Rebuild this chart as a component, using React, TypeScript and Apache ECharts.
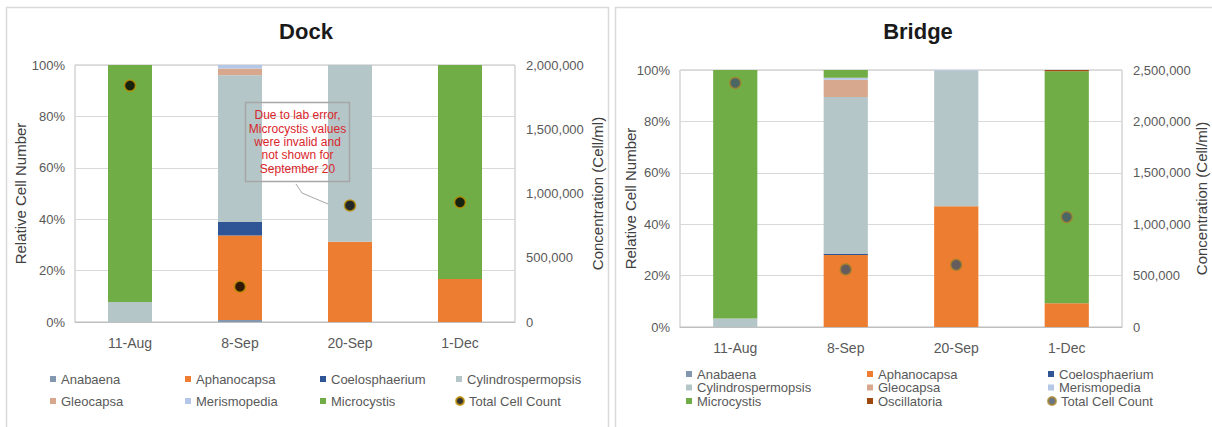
import React, { useEffect, useRef } from 'react';
import * as echarts from 'echarts';

// Sampling dates shared by both sites
const dates = ['11-Aug', '8-Sep', '20-Sep', '1-Dec'];

// Dock – relative cell number per genus (%)
const dockAnabaena = [0, 0.8, 0, 0];
const dockAphanocapsa = [0, 32.9, 31.2, 16.7];
const dockCoelosphaerium = [0, 5.2, 0, 0];
const dockCylindrospermopsis = [7.8, 57.1, 68.8, 0];
const dockGleocapsa = [0, 2.6, 0, 0];
const dockMerismopedia = [0, 1.4, 0, 0];
const dockMicrocystis = [92.2, 0, null, 83.3];
// Dock – total cell count (cells/ml)
const dockTotal = [1840000, 275000, 907000, 931000];

// Bridge – relative cell number per genus (%)
const bridgeAnabaena = [0, 0, 0, 0];
const bridgeAphanocapsa = [0, 28.0, 47.0, 9.2];
const bridgeCoelosphaerium = [0, 0.4, 0, 0];
const bridgeCylindrospermopsis = [3.3, 61.1, 52.7, 0];
const bridgeGleocapsa = [0, 6.7, 0, 0];
const bridgeMerismopedia = [0, 0.8, 0.3, 0];
const bridgeMicrocystis = [96.7, 3.0, 0, 90.3];
const bridgeOscillatoria = [0, 0, 0, 0.5];
// Bridge – total cell count (cells/ml)
const bridgeTotal = [2374000, 560000, 605000, 1069000];

// Axis ticks
const pctTicks = { min: 0, max: 100, interval: 20 };
const dockCountTicks = { min: 0, max: 2000000, interval: 500000 };
const bridgeCountTicks = { min: 0, max: 2500000, interval: 500000 };

const FONT = "'Liberation Sans', Arial, Helvetica, sans-serif";
const LABEL = '#595959';

const genusColor: Record<string, string> = {
  Anabaena: '#8497B0',
  Aphanocapsa: '#ED7D31',
  Coelosphaerium: '#2F5597',
  Cylindrospermopsis: '#B5C6C9',
  Gleocapsa: '#D8A88E',
  Merismopedia: '#B4C7E7',
  Microcystis: '#70AD47',
  Oscillatoria: '#9E480E',
};

type Stack = { name: string; data: (number | null)[] };
type Slot = { name: string; left: number; top: number };

interface PanelSpec {
  title: string;
  titleX: number;
  grid: { left: number; right: number; top: number; bottom: number };
  stacks: Stack[];
  total: number[];
  totalFill: string;
  totalBorder: string;
  countTicks: { min: number; max: number; interval: number };
  leftNameGap: number;
  rightNameGap: number;
  legend: Slot[];
  graphic: any[];
}

function buildOption(p: PanelSpec): echarts.EChartsCoreOption {
  const bars = p.stacks.map((s) => ({
    type: 'bar',
    name: s.name,
    stack: 'cells',
    data: s.data,
    barWidth: '40%',
    yAxisIndex: 0,
    itemStyle: { color: genusColor[s.name] },
  }));
  const total = {
    type: 'scatter',
    name: 'Total Cell Count',
    yAxisIndex: 1,
    data: p.total,
    symbol: 'circle',
    symbolSize: 11,
    itemStyle: { color: p.totalFill, borderColor: p.totalBorder, borderWidth: 1.5 },
    z: 5,
  };
  const legends = p.legend.map((s) => {
    const isDot = s.name === 'Total Cell Count';
    return {
      data: [{ name: s.name, icon: isDot ? 'circle' : 'rect' }],
      left: isDot ? s.left - 1 : s.left,
      top: s.top - 7,
      padding: 0,
      itemWidth: isDot ? 8 : 6,
      itemHeight: isDot ? 8 : 6,
      selectedMode: false,
      textStyle: { fontFamily: FONT, fontSize: 13, color: LABEL, lineHeight: 14 },
    };
  });
  return {
    animation: false,
    backgroundColor: 'transparent',
    title: {
      text: p.title,
      left: p.titleX,
      top: 20,
      padding: 0,
      textAlign: 'center',
      textStyle: { fontFamily: FONT, fontSize: 22, fontWeight: 'bold', color: '#1a1a1a' },
    },
    grid: {
      ...p.grid,
      show: true,
      borderColor: '#BFBFBF',
      borderWidth: 1,
      containLabel: false,
      outerBoundsMode: 'none',
    },
    legend: legends,
    xAxis: {
      type: 'category',
      data: dates,
      axisTick: { show: false },
      axisLine: { lineStyle: { color: '#BFBFBF', width: 1 } },
      axisLabel: { fontFamily: FONT, fontSize: 14, color: LABEL, margin: 14 },
    },
    yAxis: [
      {
        type: 'value',
        ...pctTicks,
        axisLine: { show: false },
        axisTick: { show: false },
        axisLabel: { formatter: '{value}%', fontFamily: FONT, fontSize: 13, color: LABEL, margin: 10 },
        splitLine: { lineStyle: { color: '#D9D9D9', width: 1 } },
        name: 'Relative Cell Number',
        nameLocation: 'middle',
        nameRotate: 90,
        nameGap: p.leftNameGap,
        nameMoveOverlap: false,
        nameTextStyle: { fontFamily: FONT, fontSize: 15, color: '#404040' },
      },
      {
        type: 'value',
        position: 'right',
        ...p.countTicks,
        axisLine: { show: false },
        axisTick: { show: false },
        axisLabel: {
          formatter: (v: number) => v.toLocaleString('en-US'),
          fontFamily: FONT,
          fontSize: 13,
          color: LABEL,
          margin: 11,
        },
        splitLine: { show: false },
        name: 'Concentration (Cell/ml)',
        nameLocation: 'middle',
        nameRotate: 90,
        nameGap: p.rightNameGap,
        nameMoveOverlap: false,
        nameTextStyle: { fontFamily: FONT, fontSize: 15, color: '#404040' },
      },
    ],
    series: [...bars, total],
    graphic: p.graphic,
  };
}

const dockSpec: PanelSpec = {
  title: 'Dock',
  titleX: 306,
  grid: { left: 75, right: 612 - 515, top: 65, bottom: 427 - 322 },
  stacks: [
    { name: 'Anabaena', data: dockAnabaena },
    { name: 'Aphanocapsa', data: dockAphanocapsa },
    { name: 'Coelosphaerium', data: dockCoelosphaerium },
    { name: 'Cylindrospermopsis', data: dockCylindrospermopsis },
    { name: 'Gleocapsa', data: dockGleocapsa },
    { name: 'Merismopedia', data: dockMerismopedia },
    { name: 'Microcystis', data: dockMicrocystis },
  ],
  total: dockTotal,
  totalFill: '#000000',
  totalBorder: '#BF9000',
  countTicks: dockCountTicks,
  leftNameGap: 47,
  rightNameGap: 75,
  legend: [
    { name: 'Anabaena', left: 50, top: 379 },
    { name: 'Aphanocapsa', left: 185, top: 379 },
    { name: 'Coelosphaerium', left: 320, top: 379 },
    { name: 'Cylindrospermopsis', left: 456, top: 379 },
    { name: 'Gleocapsa', left: 50, top: 401 },
    { name: 'Merismopedia', left: 185, top: 401 },
    { name: 'Microcystis', left: 320, top: 401 },
    { name: 'Total Cell Count', left: 456, top: 401 },
  ],
  graphic: [
    {
      type: 'rect',
      silent: true,
      shape: { x: 6.5, y: 7.5, width: 602, height: 440 },
      style: { fill: 'none', stroke: '#D9D9D9', lineWidth: 1.5 },
      z: -10,
    },
    // note about the missing Microcystis counts on 20 Sep
    {
      type: 'rect',
      silent: true,
      shape: { x: 245.5, y: 102.5, width: 104, height: 79 },
      style: { fill: 'none', stroke: '#A6A6A6', lineWidth: 1.5 },
      z: 10,
    },
    {
      type: 'polyline',
      silent: true,
      shape: { points: [[296, 184], [302, 193], [328, 204]] },
      style: { fill: 'none', stroke: '#A6A6A6', lineWidth: 1 },
      z: 10,
    },
    {
      type: 'text',
      silent: true,
      x: 297.5,
      y: 142,
      style: {
        text: 'Due to lab error,\nMicrocystis values\nwere invalid and\nnot shown for\nSeptember 20',
        fill: '#D9262B',
        font: `12px ${FONT}`,
        align: 'center',
        verticalAlign: 'middle',
        lineHeight: 13.3,
      },
      z: 11,
    },
  ],
};

const BX = 612; // left edge of the Bridge panel on the page

const bridgeSpec: PanelSpec = {
  title: 'Bridge',
  titleX: 918 - BX,
  grid: { left: 680 - BX, right: 1212 - 1122, top: 70, bottom: 427 - 327 },
  stacks: [
    { name: 'Anabaena', data: bridgeAnabaena },
    { name: 'Aphanocapsa', data: bridgeAphanocapsa },
    { name: 'Coelosphaerium', data: bridgeCoelosphaerium },
    { name: 'Cylindrospermopsis', data: bridgeCylindrospermopsis },
    { name: 'Gleocapsa', data: bridgeGleocapsa },
    { name: 'Merismopedia', data: bridgeMerismopedia },
    { name: 'Microcystis', data: bridgeMicrocystis },
    { name: 'Oscillatoria', data: bridgeOscillatoria },
  ],
  total: bridgeTotal,
  totalFill: '#44546A',
  totalBorder: '#A8842A',
  countTicks: bridgeCountTicks,
  leftNameGap: 42,
  rightNameGap: 72,
  legend: [
    { name: 'Anabaena', left: 686 - BX, top: 374 },
    { name: 'Aphanocapsa', left: 867 - BX, top: 374 },
    { name: 'Coelosphaerium', left: 1048 - BX, top: 374 },
    { name: 'Cylindrospermopsis', left: 686 - BX, top: 387.5 },
    { name: 'Gleocapsa', left: 867 - BX, top: 387.5 },
    { name: 'Merismopedia', left: 1048 - BX, top: 387.5 },
    { name: 'Microcystis', left: 686 - BX, top: 401 },
    { name: 'Oscillatoria', left: 867 - BX, top: 401 },
    { name: 'Total Cell Count', left: 1048 - BX, top: 401 },
  ],
  graphic: [
    {
      type: 'rect',
      silent: true,
      shape: { x: 615.5 - BX, y: 7.5, width: 700, height: 440 },
      style: { fill: 'none', stroke: '#D9D9D9', lineWidth: 1.5 },
      z: -10,
    },
  ],
};

function Panel({ left, width, spec }: { left: number; width: number; spec: PanelSpec }) {
  const ref = useRef<HTMLDivElement>(null);
  useEffect(() => {
    if (!ref.current) return;
    const chart = echarts.init(ref.current, undefined, { renderer: 'svg' });
    chart.setOption(buildOption(spec));
    return () => chart.dispose();
  }, [spec]);
  return (
    <div
      ref={ref}
      style={{ position: 'absolute', left, top: 0, width, height: 427 }}
    />
  );
}

export default function App() {
  return (
    <div
      style={{
        position: 'fixed',
        left: 0,
        top: 0,
        width: 1212,
        height: 427,
        background: '#ffffff',
        overflow: 'hidden',
      }}
    >
      <Panel left={0} width={612} spec={dockSpec} />
      <Panel left={BX} width={1212 - BX} spec={bridgeSpec} />
    </div>
  );
}
